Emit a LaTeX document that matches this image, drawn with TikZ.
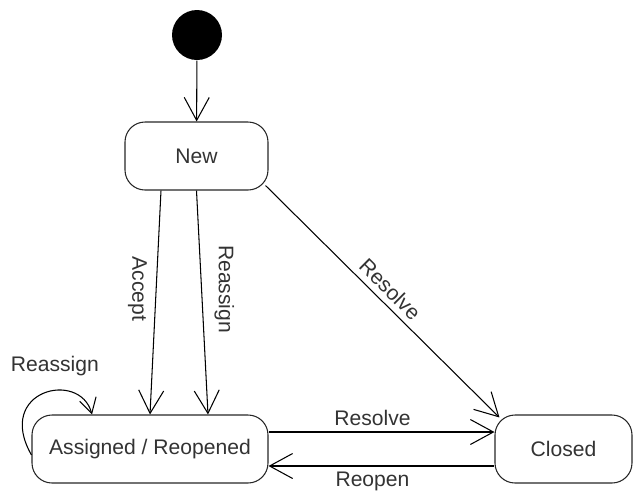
\documentclass[tikz,border=0pt]{standalone}
\usepackage{fontspec}
\setmainfont{Liberation Sans}
\usetikzlibrary{arrows.meta}
\tikzset{>/.tip={Straight Barb[length=4.6mm, width=5mm]},
  state/.style={draw=black!85, line width=0.6pt, rounded corners=0.4cm, minimum height=1.36cm,
    font=\fontsize{12}{14}\selectfont, text=black!80},
  lbl/.style={font=\fontsize{12}{14}\selectfont, text=black!80}}

\begin{document}
\begin{tikzpicture}[line width=0.6pt]
 \useasboundingbox (0, 0) rectangle (12.66, -9.8);
 \node[circle, fill=black, minimum size=1cm, inner sep=0pt] (init) at (3.94, -0.70) {};
 \node[state, minimum width=2.86cm] (new)      at (3.93, -3.12) {New};
 \node[state, minimum width=4.72cm] (assigned) at (3.00, -8.98) {Assigned / Reopened};
 \node[state, minimum width=2.74cm] (closed)   at (11.27, -8.98) {Closed};

 \path[->] (init) edge (new);
 \path[->] ([xshift=-7.1mm]new.south) edge node[lbl, pos=.44, rotate=-90, below, inner sep=5pt] {Accept} (assigned.north);
 \path[->] (new.south) edge node[lbl, pos=.44, rotate=-90, above, inner sep=7pt] {Reassign} ([xshift=11.6mm]assigned.north);
 \path[->] ([xshift=-0.6mm, yshift=1mm]new.south east) edge node[lbl, sloped, above, pos=.49] {Resolve} ([xshift=1mm, yshift=-0.6mm]closed.north west);
 \path[->] ([yshift=3.4mm]assigned.east) edge node[lbl, above, pos=.46] {Resolve} ([yshift=3.4mm]closed.west);
 \path[->] ([yshift=-3.4mm]closed.west) edge node[lbl, below, pos=.54] {Reopen} ([yshift=-3.4mm]assigned.east);

 % self loop on assigned
 \draw[-{Straight Barb[length=3mm, width=3.4mm]}] ([yshift=-1.2mm]assigned.west)
   .. controls +(-0.74, 1.30) and +(-0.24, 0.90) .. ([xshift=-11.6mm]assigned.north)
   node[lbl, pos=.6, above=5pt] {Reassign};
\end{tikzpicture}
\end{document}
